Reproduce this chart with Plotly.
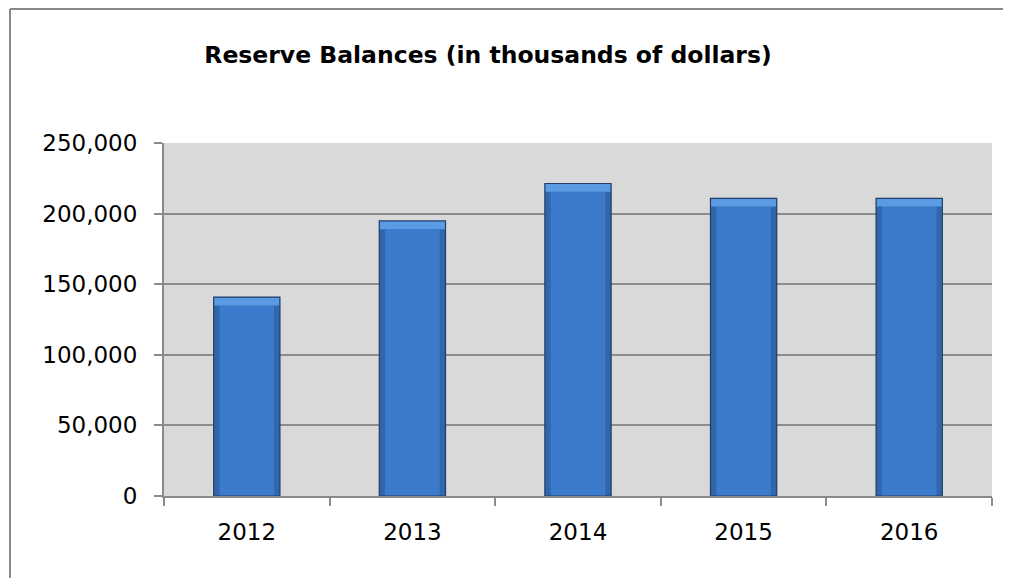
import plotly.graph_objects as go

years = ["2012", "2013", "2014", "2015", "2016"]
balances = [140800, 194800, 221300, 210800, 210800]
y_ticks = [0, 50000, 100000, 150000, 200000, 250000]
title_text = "Reserve Balances (in thousands of dollars)"

# the page body adds an 8px offset, so work in page coordinates minus 8
OFF = 8
W, H = 1011 - 2 * OFF, 586 - 2 * OFF
L, T = 164 - OFF, 143 - OFF
R = W - (992 - OFF)
B = H - (496 - OFF)
pw, ph = W - L - R, H - T - B

def px_x(x):
    return (x - OFF - L) / pw

def px_y(y):
    return (H - B - (y - OFF)) / ph

BAR_W = 0.40
INNER_W = 0.33
BEVEL = 5800  # bevel band height in data units (visual styling)

fig = go.Figure()
# bar body (darker side edges)
fig.add_trace(go.Bar(
    x=years, y=balances, width=BAR_W,
    marker=dict(color="#3166ad", line=dict(width=0)),
    hoverinfo="x+y",
))
# inner face
fig.add_trace(go.Bar(
    x=years, y=[v - BEVEL for v in balances], width=INNER_W,
    marker=dict(color="#3c7bcb", line=dict(width=0)),
    hoverinfo="skip",
))
# light top bevel
fig.add_trace(go.Bar(
    x=years, y=[BEVEL] * len(balances), base=[v - BEVEL for v in balances], width=BAR_W,
    marker=dict(color="#5b9be4", line=dict(width=0)),
    hoverinfo="skip",
))
# outline
fig.add_trace(go.Bar(
    x=years, y=balances, width=BAR_W,
    marker=dict(color="rgba(0,0,0,0)", line=dict(color="#1f3d66", width=1.2)),
    hoverinfo="skip",
))

axis_font = dict(family="DejaVu Sans, Liberation Sans, Arial, sans-serif", size=23, color="#000000")

fig.update_layout(
    width=W, height=H,
    margin=dict(l=L, r=R, t=T, b=B),
    paper_bgcolor="white",
    plot_bgcolor="#d9d9d9",
    showlegend=False,
    barmode="overlay",
    title=dict(
        text="<b>" + title_text + "</b>",
        x=(488 - OFF) / W, xref="container", xanchor="center",
        y=1 - (55 - OFF) / H, yref="container", yanchor="middle",
        font=dict(family="DejaVu Sans, Liberation Sans, Arial, sans-serif", size=23.5, color="#000000"),
    ),
    xaxis=dict(
        type="category",
        tickson="boundaries",
        ticks="outside", ticklen=8, tickwidth=1.5, tickcolor="#8a8a8a",
        showline=True, linecolor="#8a8a8a", linewidth=2,
        showgrid=False,
        tickfont=axis_font,
        ticklabelstandoff=14,
    ),
    yaxis=dict(
        range=[0, 250000],
        tickvals=y_ticks,
        tickformat=",",
        ticks="outside", ticklen=8, tickwidth=1.5, tickcolor="#8a8a8a",
        showline=True, linecolor="#8a8a8a", linewidth=2,
        showgrid=True, gridcolor="#8c8c8c", gridwidth=1.5,
        zeroline=False,
        tickfont=axis_font,
        ticklabelstandoff=12,
    ),
    shapes=[
        dict(type="line", xref="paper", yref="paper",
             x0=px_x(10), x1=px_x(1011 + 20), y0=px_y(9), y1=px_y(9),
             line=dict(color="#898989", width=2)),
        dict(type="line", xref="paper", yref="paper",
             x0=px_x(10), x1=px_x(10), y0=px_y(9), y1=px_y(586 + 20),
             line=dict(color="#898989", width=2)),
    ],
)

fig.write_html("out.html")
